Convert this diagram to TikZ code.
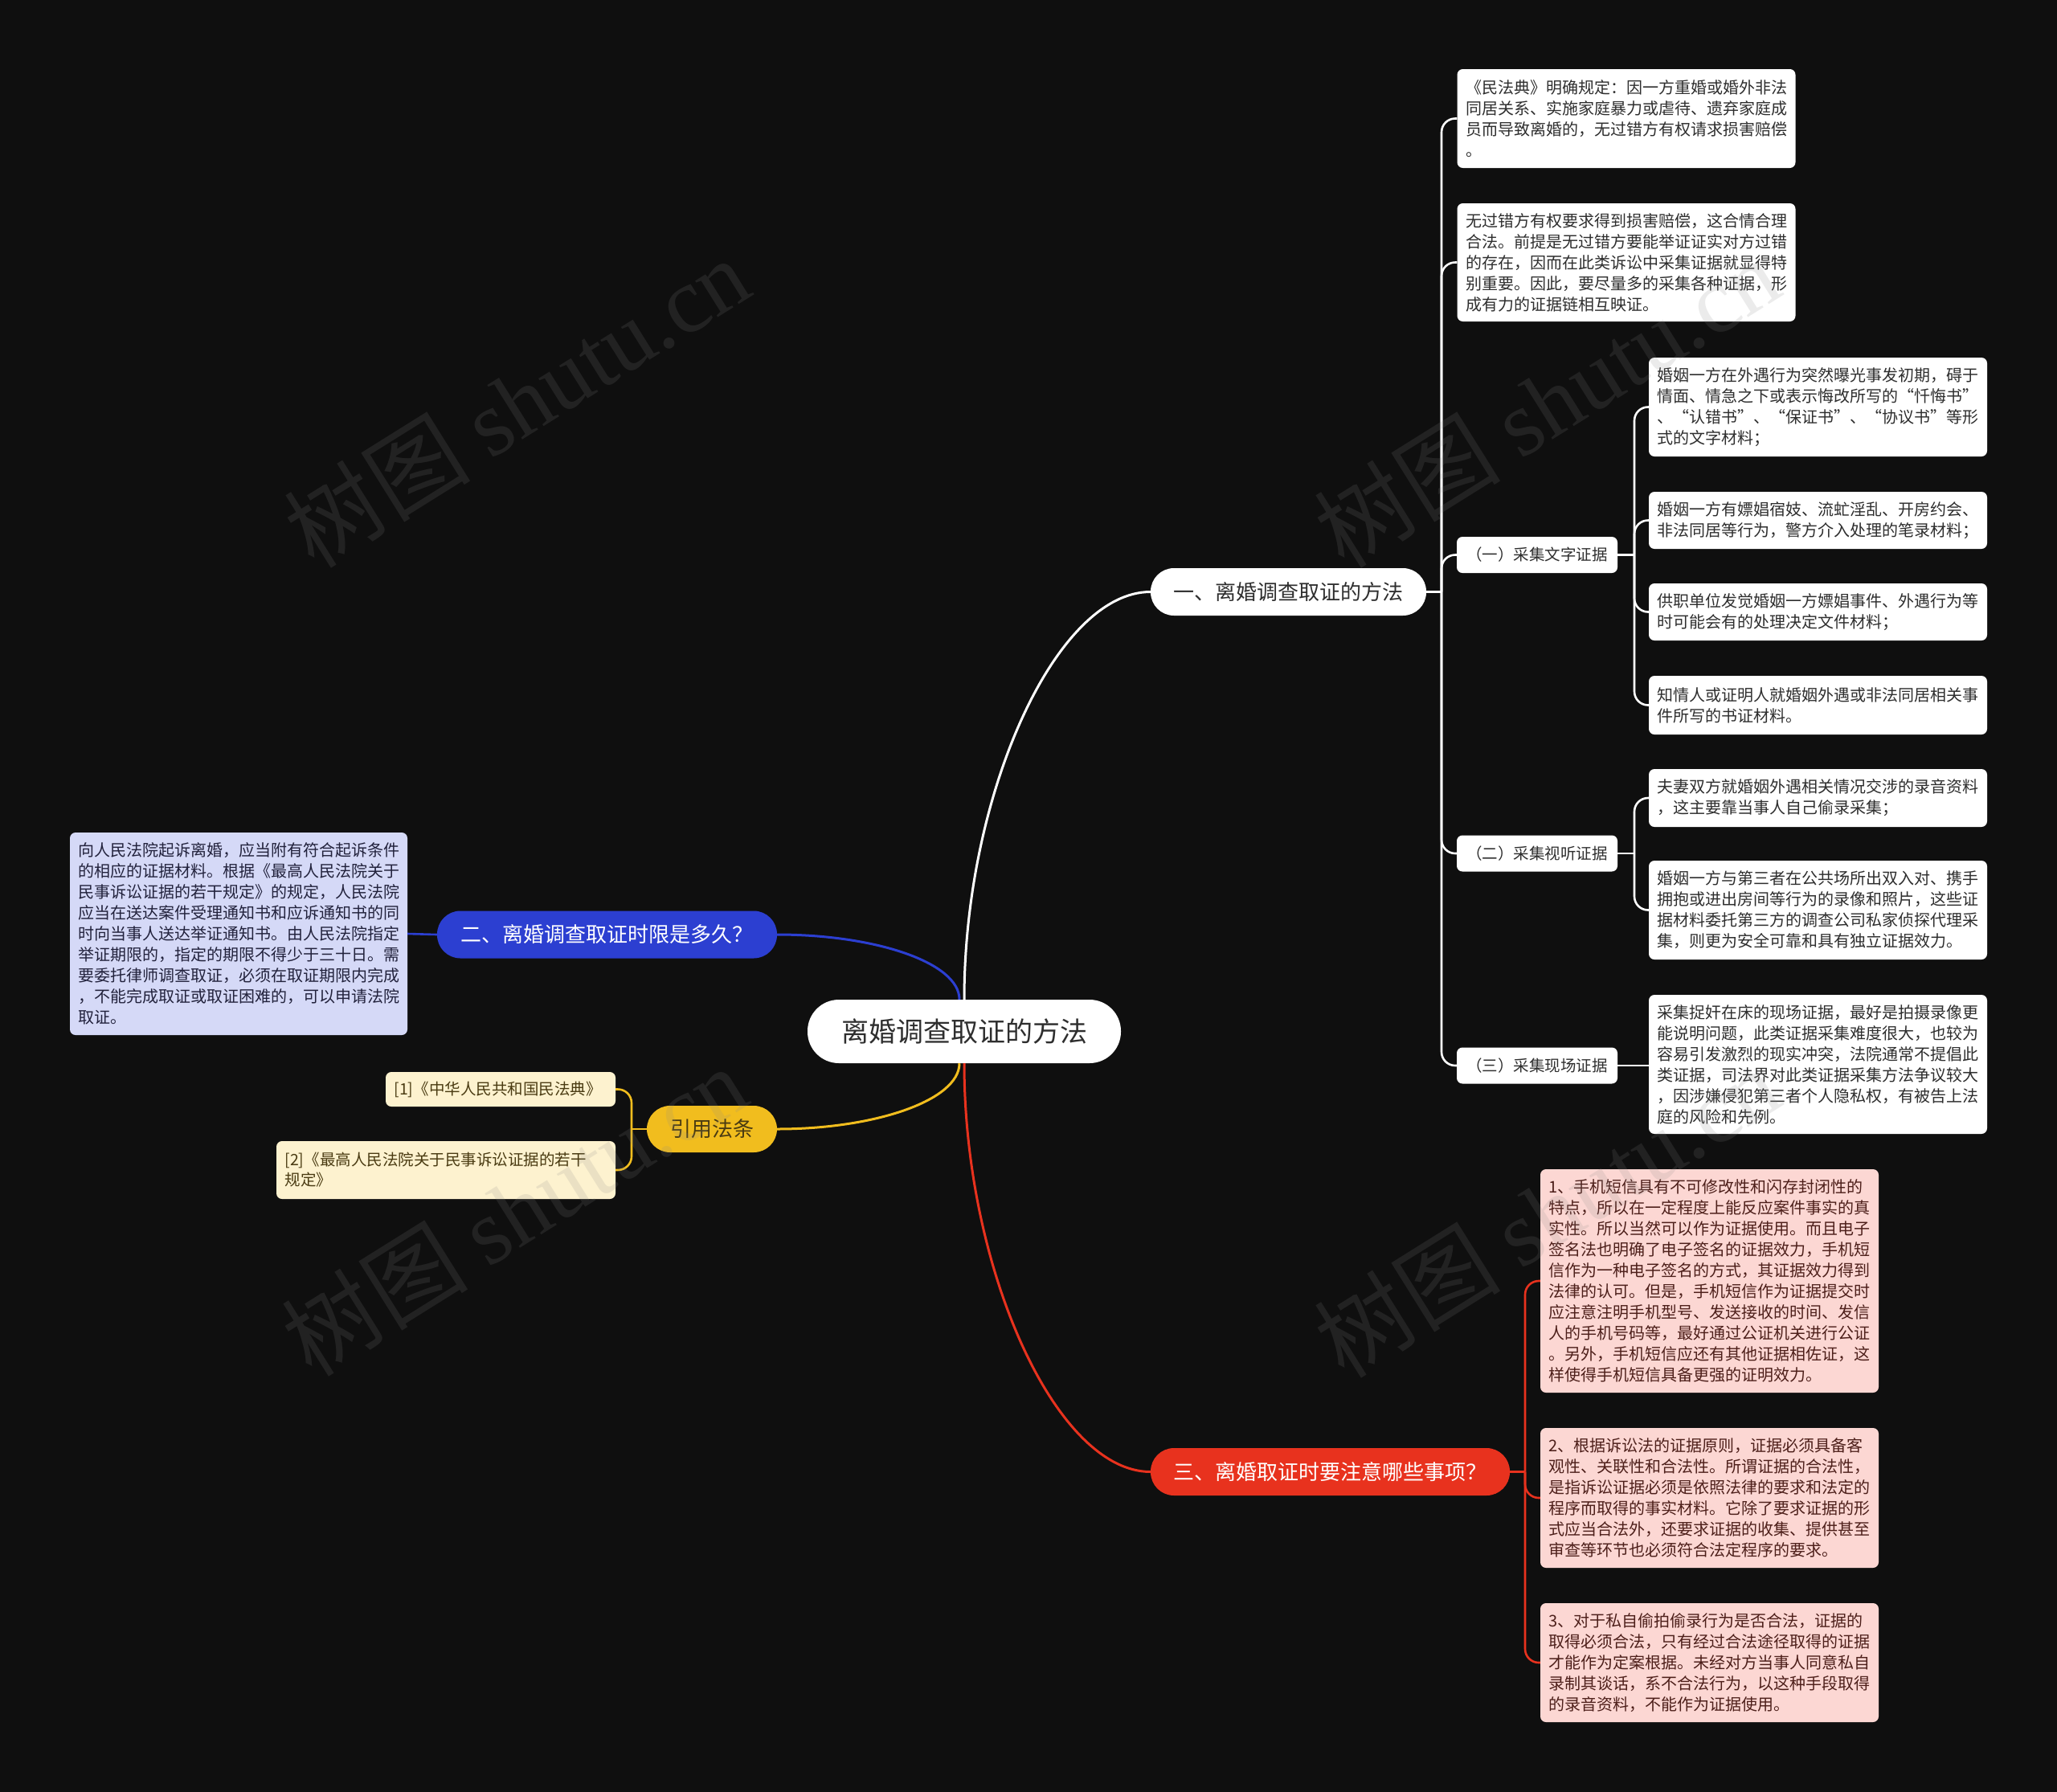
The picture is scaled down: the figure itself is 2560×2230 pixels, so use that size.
\documentclass[tikz,border=0pt]{standalone}
\usepackage{fontspec}
\setmainfont{Noto Sans CJK SC}
\newfontfamily\wmlatin{Liberation Serif}
\definecolor{bg}{HTML}{0F0F0F}
\definecolor{txt}{HTML}{2E2E2E}
\definecolor{bluemain}{HTML}{2C3FD1}
\definecolor{bluelight}{HTML}{D5D9F7}
\definecolor{bluetxt}{HTML}{22223C}
\definecolor{yelmain}{HTML}{F1BD1E}
\definecolor{yellight}{HTML}{FDF2CF}
\definecolor{yeltxt}{HTML}{4A3B12}
\definecolor{redmain}{HTML}{E8321E}
\definecolor{redlight}{HTML}{FCD7D3}
\definecolor{redtxt}{HTML}{4D1F1A}
\definecolor{wmgray}{HTML}{888888}
\begin{document}
\begin{tikzpicture}[x=1pt,y=-1pt,
  box/.style={rounded corners=7pt, inner ysep=2pt, inner xsep=10.5pt, align=left,
    font=\fontsize{20}{26}\selectfont, anchor=center},
  wleaf/.style={box, fill=white, text=txt, text width=400pt},
  rleaf/.style={box, fill=redlight, text=redtxt, text width=400pt},
  bleaf/.style={box, fill=bluelight, text=bluetxt, text width=399pt},
  yleaf/.style={box, fill=yellight, text=yeltxt, font=\fontsize{19.5}{25}\selectfont},
  subbox/.style={fill=white, text=txt, rounded corners=7pt, minimum width=200pt,
    minimum height=45pt, inner sep=0pt, font=\fontsize{19.5}{24}\selectfont},
  branch/.style={rounded corners=29pt, minimum height=59pt, inner sep=0pt,
    font=\fontsize{26}{30}\selectfont},
  mainline/.style={line width=3pt},
  elbow/.style={line width=2.6pt, rounded corners=17pt},
  wm/.style={text=wmgray, text opacity=0.16, font=\fontsize{116}{120}\selectfont, rotate=32}
]
\useasboundingbox (0,0) rectangle (2560,2230);
\fill[bg] (0,0) rectangle (2560,2230);

% ---------- nodes ----------
\node[fill=white, text=txt, rounded corners=39pt, minimum width=390pt, minimum height=79pt,
  inner sep=0pt, font=\fontsize{34}{40}\selectfont] (c) at (1200,1283.5) {离婚调查取证的方法};

\node[branch, fill=white, text=txt, minimum width=343pt] (b1) at (1603.5,736.5) {一、离婚调查取证的方法};
\node[branch, fill=bluemain, text=white, minimum width=423pt] (b2) at (755.5,1163) {二、离婚调查取证时限是多久？};
\node[branch, fill=yelmain, text=yeltxt, minimum width=162pt, minimum height=58pt] (b4) at (886,1405) {引用法条};
\node[branch, fill=redmain, text=white, minimum width=447pt] (b3) at (1655.5,1831.5) {三、离婚取证时要注意哪些事项？};

\node[wleaf, minimum height=123pt] (L1) at (2024,147.5) {《民法典》明确规定：因一方重婚或婚外非法\\
同居关系、实施家庭暴力或虐待、遗弃家庭成\\
员而导致离婚的，无过错方有权请求损害赔偿\\
。};
\node[wleaf, minimum height=147pt] (L2) at (2024,326.5) {无过错方有权要求得到损害赔偿，这合情合理\\
合法。前提是无过错方要能举证证实对方过错\\
的存在，因而在此类诉讼中采集证据就显得特\\
别重要。因此，要尽量多的采集各种证据，形\\
成有力的证据链相互映证。};

\node[subbox] (s1) at (1913,690.5) {（一）采集文字证据};
\node[subbox] (s2) at (1913,1062) {（二）采集视听证据};
\node[subbox] (s3) at (1913,1326) {（三）采集现场证据};

\node[wleaf, minimum height=123pt] (A1) at (2262.5,506.5) {婚姻一方在外遇行为突然曝光事发初期，碍于\\
情面、情急之下或表示悔改所写的“忏悔书”\\
、“认错书”、“保证书”、“协议书”等形\\
式的文字材料；};
\node[wleaf, minimum height=71pt] (A2) at (2262.5,647.5) {婚姻一方有嫖娼宿妓、流虻淫乱、开房约会、\\
非法同居等行为，警方介入处理的笔录材料；};
\node[wleaf, minimum height=71pt] (A3) at (2262.5,761.5) {供职单位发觉婚姻一方嫖娼事件、外遇行为等\\
时可能会有的处理决定文件材料；};
\node[wleaf, minimum height=73pt] (A4) at (2262.5,877.5) {知情人或证明人就婚姻外遇或非法同居相关事\\
件所写的书证材料。};

\node[wleaf, minimum height=72pt] (B1) at (2262.5,993) {夫妻双方就婚姻外遇相关情况交涉的录音资料\\
，这主要靠当事人自己偷录采集；};
\node[wleaf, minimum height=123pt] (B2) at (2262.5,1132.5) {婚姻一方与第三者在公共场所出双入对、携手\\
拥抱或进出房间等行为的录像和照片，这些证\\
据材料委托第三方的调查公司私家侦探代理采\\
集，则更为安全可靠和具有独立证据效力。};

\node[wleaf, minimum height=173pt] (C1) at (2262.5,1324.5) {采集捉奸在床的现场证据，最好是拍摄录像更\\
能说明问题，此类证据采集难度很大，也较为\\
容易引发激烈的现实冲突，法院通常不提倡此\\
类证据，司法界对此类证据采集方法争议较大\\
，因涉嫌侵犯第三者个人隐私权，有被告上法\\
庭的风险和先例。};

\node[rleaf, minimum height=278pt] (R1) at (2127.5,1594) {1、手机短信具有不可修改性和闪存封闭性的\\
特点，所以在一定程度上能反应案件事实的真\\
实性。所以当然可以作为证据使用。而且电子\\
签名法也明确了电子签名的证据效力，手机短\\
信作为一种电子签名的方式，其证据效力得到\\
法律的认可。但是，手机短信作为证据提交时\\
应注意注明手机型号、发送接收的时间、发信\\
人的手机号码等，最好通过公证机关进行公证\\
。另外，手机短信应还有其他证据相佐证，这\\
样使得手机短信具备更强的证明效力。};
\node[rleaf, minimum height=174pt] (R2) at (2127.5,1864) {2、根据诉讼法的证据原则，证据必须具备客\\
观性、关联性和合法性。所谓证据的合法性，\\
是指诉讼证据必须是依照法律的要求和法定的\\
程序而取得的事实材料。它除了要求证据的形\\
式应当合法外，还要求证据的收集、提供甚至\\
审查等环节也必须符合法定程序的要求。};
\node[rleaf, minimum height=148pt] (R3) at (2127.5,2069) {3、对于私自偷拍偷录行为是否合法，证据的\\
取得必须合法，只有经过合法途径取得的证据\\
才能作为定案根据。未经对方当事人同意私自\\
录制其谈话，系不合法行为，以这种手段取得\\
的录音资料，不能作为证据使用。};

\node[bleaf, minimum height=252pt] (BL) at (297,1162) {向人民法院起诉离婚，应当附有符合起诉条件\\
的相应的证据材料。根据《最高人民法院关于\\
民事诉讼证据的若干规定》的规定，人民法院\\
应当在送达案件受理通知书和应诉通知书的同\\
时向当事人送达举证通知书。由人民法院指定\\
举证期限的，指定的期限不得少于三十日。需\\
要委托律师调查取证，必须在取证期限内完成\\
，不能完成取证或取证困难的，可以申请法院\\
取证。};

\node[yleaf, text width=265pt, minimum height=43pt] (Y1) at (623,1355.5) {[1]《中华人民共和国民法典》};
\node[yleaf, text width=401pt, minimum height=72pt] (Y2) at (555,1456) {[2]《最高人民法院关于民事诉讼证据的若干\\
规定》};

% ---------- connectors from the centre ----------
\draw[mainline, white] (c.north) .. controls +(0,-255) and +(-118,0) .. (b1.west);
\draw[mainline, bluemain] ([xshift=-6pt]c.north) .. controls +(0,-46) and +(122,0) .. (b2.east);
\draw[mainline, yelmain] ([xshift=-6pt]c.south) .. controls +(0,46) and +(122,0) .. (b4.east);
\draw[mainline, redmain] (c.south) .. controls +(0,255) and +(-118,0) .. (b3.west);

% ---------- branch 1 ----------
\coordinate (j1) at (1794,736.5);
\draw[elbow, white] (b1.east) -- (j1);
\foreach \t in {L1,L2,s1,s2,s3} \draw[elbow, white] (j1) |- (\t.west);
\coordinate (j2) at (2034,690.5);
\draw[elbow, white] (s1.east) -- (j2);
\foreach \t in {A1,A2,A3,A4} \draw[elbow, white] (j2) |- (\t.west);
\coordinate (j3) at (2034,1062);
\draw[elbow, white] (s2.east) -- (j3);
\foreach \t in {B1,B2} \draw[elbow, white] (j3) |- (\t.west);
\draw[elbow, white] (s3.east) -- (s3.east -| C1.west);

% ---------- branch 2 ----------
\draw[elbow, bluemain] (b2.west) -- (BL.east);

% ---------- citations ----------
\coordinate (j5) at (786,1405);
\draw[elbow, yelmain] (b4.west) -- (j5);
\foreach \t in {Y1,Y2} \draw[elbow, yelmain] (j5) |- (\t.east);

% ---------- branch 3 ----------
\coordinate (j4) at (1898,1831.5);
\draw[elbow, redmain] (b3.east) -- (j4);
\foreach \t in {R1,R2,R3} \draw[elbow, redmain] (j4) |- (\t.west);

% ---------- watermarks ----------
\node[wm] (w1) at (643,500) {树图 {\wmlatin shutu.cn}};
\node[wm] (w2) at (1925,500) {树图 {\wmlatin shutu.cn}};
\node[wm] (w3) at (640,1506) {树图 {\wmlatin shutu.cn}};
\node[wm] (w4) at (1925,1508) {树图 {\wmlatin shutu.cn}};
\end{tikzpicture}
\end{document}
